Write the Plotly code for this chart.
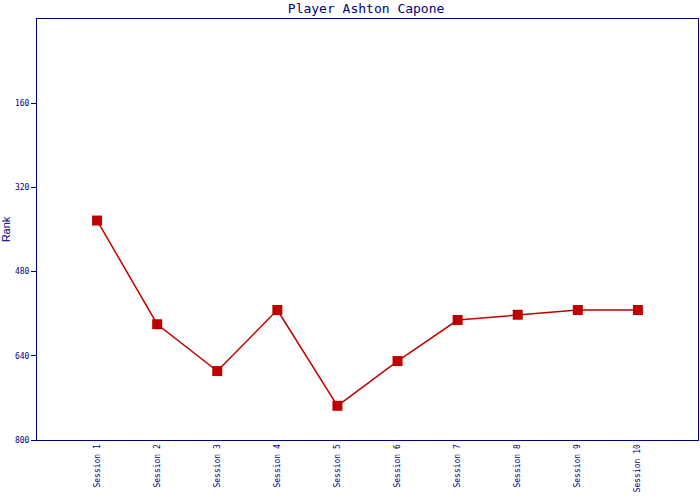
import plotly.graph_objects as go

sessions = ["Session 1", "Session 2", "Session 3", "Session 4", "Session 5",
            "Session 6", "Session 7", "Session 8", "Session 9", "Session 10"]
ranks = [383, 580, 669, 553, 735, 650, 572, 562, 553, 553]
y_ticks = [160, 320, 480, 640, 800]

navy = "#000080"
red = "#C00000"

fig = go.Figure()
fig.add_trace(go.Scatter(
    x=list(range(len(sessions))), y=ranks, mode="lines+markers",
    line=dict(color=red, width=1.5),
    marker=dict(symbol="square", size=10, color=red),
    showlegend=False,
))

fig.update_layout(
    width=700, height=500,
    margin=dict(l=37, r=2, t=19, b=60, autoexpand=False),
    paper_bgcolor="white", plot_bgcolor="white",
    title=dict(text="Player Ashton Capone", x=0.523, xanchor="center",
               yref="container", y=0.984, yanchor="middle", automargin=False,
               font=dict(family="DejaVu Sans Mono", size=13, color=navy)),
    xaxis=dict(
        range=[-1, 10], tickmode="array", automargin=False,
        tickvals=list(range(len(sessions))), ticktext=sessions,
        tickangle=-90, ticks="", showgrid=False, zeroline=False,
        showline=True, linecolor=navy, linewidth=1, mirror=True,
        tickfont=dict(family="DejaVu Sans Mono", size=8, color=navy),
    ),
    yaxis=dict(
        range=[800, 0], tickmode="array", tickvals=y_ticks, automargin=False,
        ticktext=[str(v) for v in y_ticks],
        ticks="outside", ticklen=5, tickcolor=navy,
        showgrid=False, zeroline=False,
        showline=True, linecolor=navy, linewidth=1, mirror=True,
        tickfont=dict(family="DejaVu Sans Mono", size=8, color=navy),
        title=dict(text="Rank", standoff=8,
                   font=dict(family="Liberation Sans", size=11, color=navy)),
    ),
)

post = ("document.body.style.margin='0px';"
        "document.body.style.overflow='hidden';"
        "var gd=document.getElementById('{plot_id}');"
        "Plotly.relayout(gd,{width:700,height:500});")

fig.write_html("out.html", post_script=post, config={"displayModeBar": False})
